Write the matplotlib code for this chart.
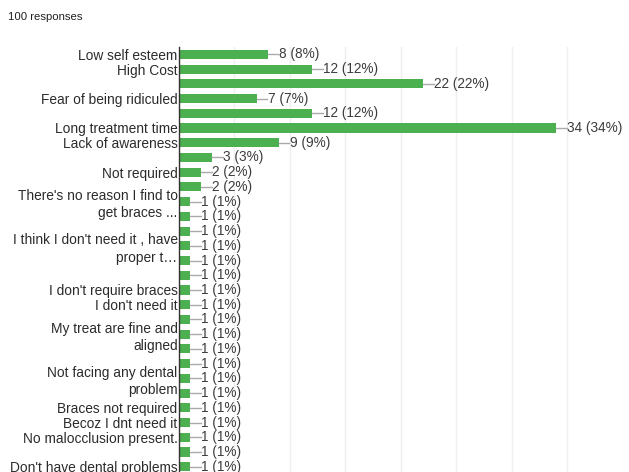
import matplotlib.pyplot as plt

plt.rcParams['font.family'] = ['Liberation Sans', 'DejaVu Sans']

labels = [
    'Low self esteem', 'High Cost', '', 'Fear of being ridiculed', '',
    'Long treatment time', 'Lack of awareness', '', 'Not required', '',
    "There's no reason I find to\nget braces ...", '', '',
    "I think I don't need it , have\nproper t\u2026", '', '',
    "I don't require braces", "I don't need it", '',
    'My treat are fine and\naligned', '', '',
    'Not facing any dental\nproblem', '',
    'Braces not required', 'Becoz I dnt need it', 'No malocclusion present.', '',
    "Don't have dental problems",
]
counts = [8, 12, 22, 7, 12, 34, 9, 3, 2, 2,
          1, 1, 1, 1, 1, 1, 1, 1, 1, 1,
          1, 1, 1, 1, 1, 1, 1, 1, 1]
total = 100

green = '#4caf50'
text_col = '#2b2b2b'

fig = plt.figure(figsize=(6.29, 4.72), dpi=100)
# plot area runs off the bottom of the picture like the screenshot
ax = fig.add_axes([179 / 629, 0, 443.6 / 629, 425 / 472])

rows = list(range(1, len(counts) + 1))
ax.barh(rows, counts, height=0.62, color=green, zorder=3)

for r, c in zip(rows, counts):
    ax.plot([c, c + 0.95], [r, r], color='#aaaaaa', lw=1, zorder=3)
    ax.text(c + 1.0, r, f'{c} ({c * 100 // total}%)', va='center', ha='left',
            fontsize=9.8, color='#3c3c3c')

ax.set_xlim(0, 40)
ax.set_ylim(29.36, 0.5)
ax.set_xticks(range(0, 41, 5))
ax.xaxis.grid(True, color='#efefef', lw=1, zorder=0)
ax.tick_params(axis='x', length=0, labelbottom=False)
ax.set_yticks(rows)
ax.set_yticklabels(labels, fontsize=9.9, color=text_col, linespacing=1.3)
ax.tick_params(axis='y', length=0, pad=1)
for s in ['top', 'right', 'bottom']:
    ax.spines[s].set_visible(False)
ax.spines['left'].set_color('#333333')
ax.spines['left'].set_linewidth(1)
ax.spines['left'].set_zorder(4)

fig.text(8 / 629, 1 - 17 / 472, '100 responses', fontsize=8.2, color='#202124',
         va='center', ha='left')

fig.savefig('out.png', dpi=100)
